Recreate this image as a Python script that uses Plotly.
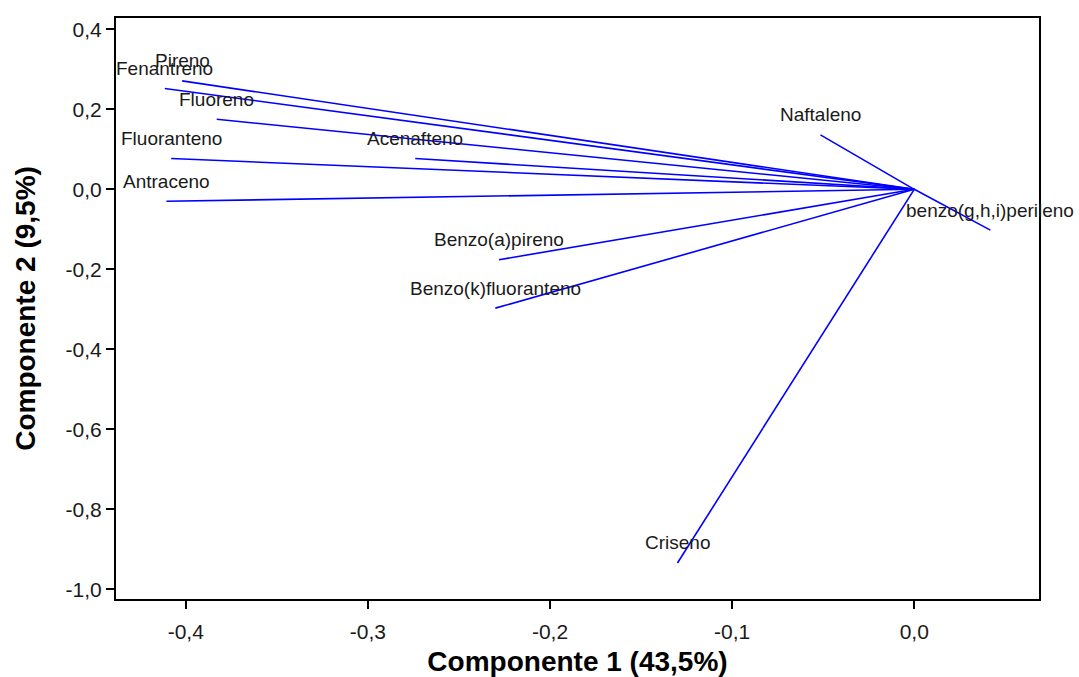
import plotly.graph_objects as go

variables = ["Pireno", "Fenantreno", "Fluoreno", "Fluoranteno", "Antraceno",
             "Acenafteno", "Naftaleno", "benzo(g,h,i)perileno", "Benzo(a)pireno",
             "Benzo(k)fluoranteno", "Criseno"]
comp1 = [-0.402, -0.4115, -0.383, -0.408, -0.4106, -0.274, -0.0515, 0.0418, -0.228, -0.230, -0.130]
comp2 = [0.271, 0.252, 0.175, 0.077, -0.030, 0.077, 0.136, -0.102, -0.176, -0.297, -0.934]

x_tickvals = [-0.4, -0.3, -0.2, -0.1, 0.0]
x_ticktext = ["-0,4", "-0,3", "-0,2", "-0,1", "0,0"]
y_tickvals = [0.4, 0.2, 0.0, -0.2, -0.4, -0.6, -0.8, -1.0]
y_ticktext = ["0,4", "0,2", "0,0", "-0,2", "-0,4", "-0,6", "-0,8", "-1,0"]

xs, ys = [], []
for a, b in zip(comp1, comp2):
    xs += [0.0, a, None]
    ys += [0.0, b, None]

fig = go.Figure()
fig.add_trace(go.Scatter(x=xs, y=ys, mode="lines",
                         line=dict(color="#0000FF", width=1.6),
                         hoverinfo="skip", showlegend=False))

for name, a, b in zip(variables, comp1, comp2):
    fig.add_annotation(x=a, y=b, text=name, showarrow=False, yshift=20,
                       font=dict(family="Liberation Sans, Arial", size=19, color="#1a1a1a"))

axis_common = dict(showgrid=False, zeroline=False, showline=True, mirror=True,
                   linecolor="black", linewidth=2, ticks="outside", ticklen=8,
                   tickcolor="black", tickwidth=1.5, automargin=False,
                   tickfont=dict(family="Liberation Sans, Arial", size=21, color="#1a1a1a"))

fig.update_xaxes(range=[-0.4383, 0.0685], tickvals=x_tickvals, ticktext=x_ticktext,
                 ticklabelstandoff=5,
                 title=dict(text="<b>Componente 1 (43,5%)</b>", standoff=10,
                            font=dict(family="Liberation Sans, Arial", size=28, color="black")),
                 **axis_common)
fig.update_yaxes(range=[-1.024, 0.4282], tickvals=y_tickvals, ticktext=y_ticktext,
                 title=dict(text="<b>Componente 2 (9,5%)</b>", standoff=22,
                            font=dict(family="Liberation Sans, Arial", size=28, color="black")),
                 **axis_common)

fig.update_layout(width=1079, height=677,
                  margin=dict(l=116, r=40, t=18, b=78),
                  plot_bgcolor="white", paper_bgcolor="white")

fig.write_html("out.html")
